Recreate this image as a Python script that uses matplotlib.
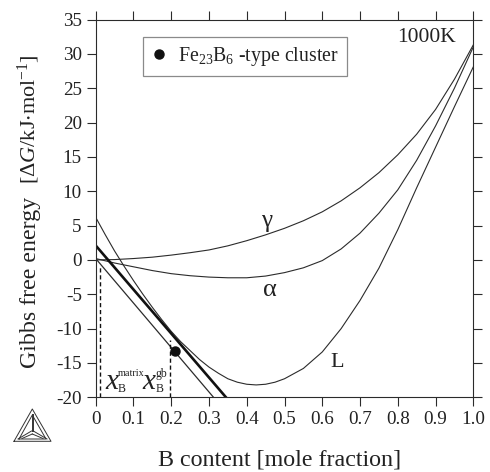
import matplotlib
matplotlib.use('Agg')
import matplotlib.pyplot as plt
from matplotlib.lines import Line2D

plt.rcParams['font.family'] = ['Liberation Serif', 'DejaVu Serif']
plt.rcParams['mathtext.fontset'] = 'custom'
plt.rcParams['mathtext.rm'] = 'Liberation Serif'
plt.rcParams['mathtext.it'] = 'Liberation Serif:italic'
plt.rcParams['mathtext.default'] = 'regular'
plt.rcParams['axes.unicode_minus'] = False

# Data
gamma_x = [0, 0.05, 0.1, 0.15, 0.2, 0.25, 0.3, 0.35, 0.4, 0.45, 0.5, 0.55, 0.6, 0.65, 0.7, 0.75, 0.8, 0.85, 0.9, 0.95, 1.0]
gamma_y = [0, 0.05, 0.2, 0.4, 0.7, 1.05, 1.45, 2.05, 2.8, 3.65, 4.6, 5.7, 7.0, 8.6, 10.5, 12.7, 15.3, 18.3, 21.9, 26.3, 31.3]

alpha_x = [0, 0.05, 0.1, 0.15, 0.2, 0.25, 0.3, 0.35, 0.4, 0.45, 0.5, 0.55, 0.6, 0.65, 0.7, 0.75, 0.8, 0.85, 0.9, 0.95, 1.0]
alpha_y = [0.2, -0.45, -1.0, -1.55, -2.0, -2.3, -2.5, -2.6, -2.6, -2.35, -1.85, -1.15, -0.1, 1.6, 3.9, 6.8, 10.2, 14.5, 19.5, 25.0, 31.0]

liquid_x = [0, 0.025, 0.05, 0.075, 0.1, 0.125, 0.15, 0.175, 0.2, 0.225, 0.25, 0.275, 0.3, 0.325, 0.35, 0.375, 0.4, 0.425,
            0.45, 0.475, 0.5, 0.55, 0.6, 0.65, 0.7, 0.75, 0.8, 0.85, 0.9, 0.95, 1.0]
liquid_y = [6.2, 3.7, 1.3, -0.9, -3.0, -5.0, -6.9, -8.7, -10.4, -11.9, -13.2, -14.5, -15.6, -16.5, -17.3, -17.8, -18.1, -18.2,
            -18.1, -17.8, -17.3, -15.8, -13.4, -10.0, -5.9, -1.2, 4.4, 10.5, 16.4, 22.3, 28.1]

thick_x = [0, 0.345]
thick_y = [2.1, -20]
thin_x = [0, 0.312]
thin_y = [0.2, -20]

matrix_x = [0.0114, 0.0114]
matrix_y = [-20, -1.0]
gb_x = [0.1977, 0.1977]
gb_y = [-20, -11.7]

cluster_x = [0.209]
cluster_y = [-13.3]

x_ticks = [0, 0.1, 0.2, 0.3, 0.4, 0.5, 0.6, 0.7, 0.8, 0.9, 1.0]
x_labels = ['0', '0.1', '0.2', '0.3', '0.4', '0.5', '0.6', '0.7', '0.8', '0.9', '1.0']
y_ticks = [-20, -15, -10, -5, 0, 5, 10, 15, 20, 25, 30, 35]

# Draw plot
W, H = 490, 472
fig = plt.figure(figsize=(4.9, 4.72), dpi=100)
ax = fig.add_axes([95.7 / W, (H - 397.3) / H, 377.6 / W, 377.8 / H])

dark = '#2b2b2b'
ax.plot(gamma_x, gamma_y, color=dark, lw=0.8)
ax.plot(alpha_x, alpha_y, color=dark, lw=0.8)
ax.plot(liquid_x, liquid_y, color=dark, lw=0.8)
ax.plot(thick_x, thick_y, color='#111111', lw=1.9)
ax.plot(thin_x, thin_y, color=dark, lw=0.9)
ax.plot(matrix_x, matrix_y, color='#111111', lw=1.0, dashes=(3, 2))
ax.plot(gb_x, gb_y, color='#111111', lw=1.0, dashes=(3, 2))
ax.plot(cluster_x, cluster_y, 'o', color='#111111', ms=6.5)

ax.set_xlim(0, 1)
ax.set_ylim(-20, 35)
ax.set_xticks(x_ticks)
ax.set_xticklabels(x_labels)
ax.set_yticks(y_ticks)
ax.tick_params(axis='both', which='major', direction='out', length=6.5, width=0.8, color=dark,
               labelsize=13.8, labelcolor='#222222', pad=3.5, top=True, right=True)
for s in ax.spines.values():
    s.set_linewidth(0.8)
    s.set_color(dark)

ax.set_xlabel('B content [mole fraction]', fontsize=17.3, color='#222222')
ax.xaxis.set_label_coords(0.486, -0.139)
ax.set_ylabel('Gibbs free energy', fontsize=17.2, color='#222222', va='baseline')
ax.yaxis.set_label_coords(-0.1594, 0.304)
ax.text(-0.1594, 0.7366, r'[$\Delta$$\mathit{G}$/kJ$\cdot$mol$^{-1}$]', transform=ax.transAxes, fontsize=16,
        rotation=90, rotation_mode='anchor', ha='center', va='baseline', color='#222222', clip_on=False)

# Curve names and temperature
ax.text(0.453, 5.7, '\u03b3', fontsize=18, ha='center', va='center', color='#222222')
ax.text(0.46, -4.4, '\u03b1', fontsize=19, ha='center', va='center', color='#222222')
ax.text(0.639, -15, 'L', fontsize=16, ha='center', va='center', color='#222222')
ax.text(0.876, 32.4, '1000K', fontsize=15.5, ha='center', va='center', color='#222222')

# Compositions under the tangent
ax.text(0.025, -18.8, 'x', fontsize=21, style='italic', ha='left', va='baseline', color='#222222')
ax.text(0.059, -19.3, 'B', fontsize=8.5, ha='left', va='baseline', color='#222222')
ax.text(0.059, -16.85, 'matrix', fontsize=7.3, ha='left', va='baseline', color='#222222')
ax.text(0.123, -18.8, 'x', fontsize=21, style='italic', ha='left', va='baseline', color='#222222')
ax.text(0.159, -19.3, 'B', fontsize=8.5, ha='left', va='baseline', color='#222222')
ax.text(0.159, -17.0, 'gb', fontsize=8.5, ha='left', va='baseline', color='#222222')

# Legend
handle = Line2D([], [], marker='o', color='#111111', ls='none', ms=6.5)
leg = ax.legend([handle], ['Fe$_{23}$B$_{6}$ -type cluster'], loc='upper left',
                bbox_to_anchor=(0.1245, 0.9529), frameon=True, fancybox=False, framealpha=1,
                edgecolor='#8a8a8a', fontsize=14.3, handlelength=0.83, handletextpad=0.55,
                borderpad=0.4, borderaxespad=0)
leg.get_frame().set_linewidth(0.9)
for t in leg.get_texts():
    t.set_color('#222222')

# Thermo-Calc style logo, drawn in figure pixels
def px(xs, ys):
    return [x / W for x in xs], [(H - y) / H for y in ys]

logo_x = [[14, 51, 32.3, 14], [19, 46, 32.3, 19], [31.5, 31.5], [33.3, 33.3], [18, 31.5], [47, 33.3], [22, 32.3], [43, 32.3]]
logo_y = [[441.3, 441.3, 409, 441.3], [439, 439, 415, 439], [414, 431], [414, 431], [439, 431], [439, 431], [438.5, 434], [438.5, 434]]
for xs, ys in zip(logo_x, logo_y):
    a, b = px(xs, ys)
    fig.add_artist(Line2D(a, b, color='#333333', lw=0.7))

fig.savefig('out.png', dpi=100)
